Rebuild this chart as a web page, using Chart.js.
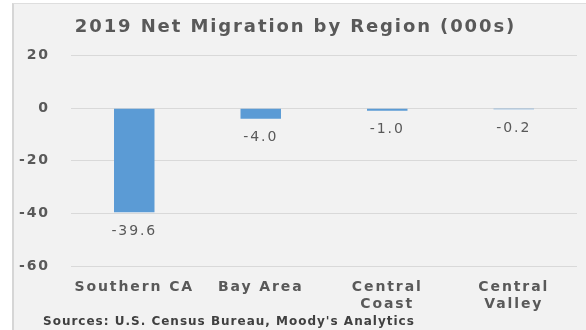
<!DOCTYPE html>
<html>
<head>
<meta charset="utf-8">
<script src="https://cdn.jsdelivr.net/npm/chart.js@4"></script>
<style>
  html, body { margin: 0; padding: 0; background: #ffffff; }
  #frame {
    position: absolute; left: 12px; top: 3px; right: 0; bottom: 0;
    background: #f2f2f2;
    border-left: 2px solid #d6d6d6;
    border-top: 1px solid #dedede;
  }
  #chart { position: absolute; left: 0; top: 0; }
</style>
</head>
<body>
<div id="frame"></div>
<canvas id="chart" width="586" height="330"></canvas>
<script>
const regions = ['Southern CA', 'Bay Area', ['Central', 'Coast'], ['Central', 'Valley']]
const netMigration = [-39.6, -4.0, -1.0, -0.2]
const yTicks = [20, 0, -20, -40, -60]

const fontFamily = '"DejaVu Sans", sans-serif'
const textGray = '#595959'

// wide, letter-spaced text like the original export
const spacing = {
    id: 'spacing',
    beforeUpdate(chart) { chart.ctx.letterSpacing = '1.9px' },
    beforeDraw(chart) { chart.ctx.letterSpacing = '1.9px' }
}

// value under the end of each bar
const valueLabels = {
    id: 'valueLabels',
    afterDatasetsDraw(chart) {
        const ctx = chart.ctx
        const meta = chart.getDatasetMeta(0)
        ctx.save()
        ctx.font = '14px ' + fontFamily
        ctx.fillStyle = textGray
        ctx.textAlign = 'center'
        ctx.textBaseline = 'top'
        meta.data.forEach((bar, i) => {
            ctx.fillText(netMigration[i].toFixed(1), bar.x, bar.y + 12)
        })
        ctx.restore()
    }
}

const sourceNote = {
    id: 'sourceNote',
    afterDraw(chart) {
        const ctx = chart.ctx
        ctx.save()
        ctx.letterSpacing = '1px'
        ctx.font = 'bold 12px ' + fontFamily
        ctx.fillStyle = '#404040'
        ctx.textAlign = 'left'
        ctx.textBaseline = 'middle'
        ctx.fillText("Sources: U.S. Census Bureau, Moody's Analytics", 43, 322)
        ctx.restore()
    }
}

new Chart(document.getElementById('chart'), {
    type: 'bar',
    data: {
        labels: regions,
        datasets: [{
            data: netMigration,
            backgroundColor: '#5b9bd5',
            categoryPercentage: 1,
            barPercentage: 0.32,
            minBarLength: 1
        }]
    },
    options: {
        responsive: false,
        animation: false,
        layout: { padding: { left: 14, right: 9, top: 0, bottom: 0 } },
        plugins: {
            legend: { display: false },
            tooltip: { enabled: false },
            title: {
                display: true,
                text: '2019 Net Migration by Region (000s)',
                color: textGray,
                font: { family: fontFamily, size: 18, weight: 'bold', lineHeight: 1.2 },
                padding: { top: 17, bottom: 17 }
            }
        },
        scales: {
            x: {
                grid: { display: false, drawTicks: false },
                border: { display: false },
                ticks: {
                    color: textGray,
                    padding: 13,
                    maxRotation: 0,
                    font: { family: fontFamily, size: 14, weight: 'bold', lineHeight: 1.2 }
                },
                afterFit(scale) { scale.height = 64 }
            },
            y: {
                min: -60,
                max: 20,
                afterBuildTicks(scale) { scale.ticks = yTicks.map(v => ({ value: v })) },
                grid: { color: '#d9d9d9', drawTicks: false },
                border: { display: false },
                ticks: {
                    color: textGray,
                    padding: 21,
                    font: { family: fontFamily, size: 14, weight: 'bold' }
                },
                afterFit(scale) { scale.width = 57 }
            }
        }
    },
    plugins: [spacing, valueLabels, sourceNote]
})
</script>
</body>
</html>
